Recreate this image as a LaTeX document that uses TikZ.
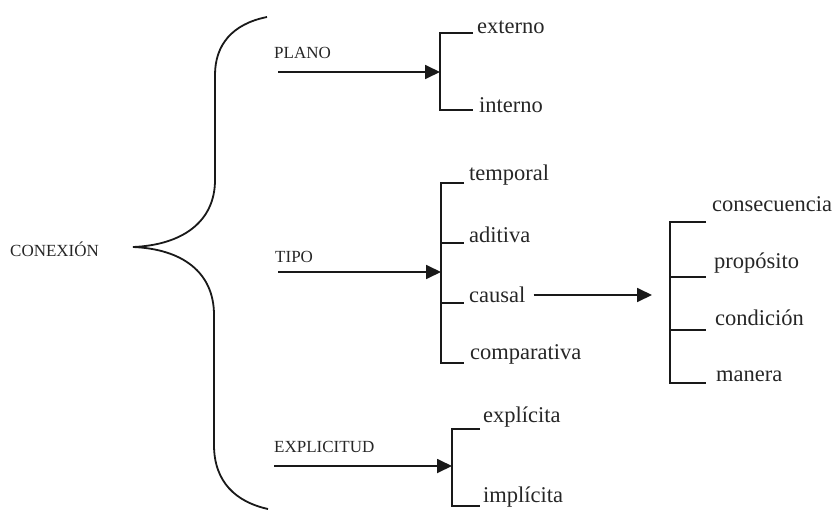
\documentclass[tikz,border=0pt]{standalone}
\usepackage{fontspec}
\setmainfont{Liberation Serif}
\usetikzlibrary{arrows.meta}
\begin{document}
\begin{tikzpicture}[x=1pt,y=-1pt,
  line/.style={line width=1.8pt,color=black!90},
  arr/.style={line, -{Triangle[length=15pt,width=14pt]}},
  upper/.style={font=\fontsize{17}{17}\selectfont, anchor=west, inner sep=0pt, text=black!85},
  lab/.style={font=\fontsize{22.5}{22.5}\selectfont, anchor=west, inner sep=0pt, text=black!85}]
\useasboundingbox (0,0) rectangle (837,511);
% brace
\draw[line] (267,17) .. controls (232,24) and (215,45) .. (215,75) -- (215,180)
  .. controls (215,222) and (182,245) .. (133,247)
  .. controls (182,249) and (214,272) .. (214,315) -- (214,445)
  .. controls (214,482) and (236,502) .. (268,509);
\node[upper] (con) at (10,249) {CONEXIÓN};
% PLANO
\node[upper] (plano) at (274,53) {PLANO};
\coordinate (p0) at (278,72);
\coordinate (pb) at (440,72);
\draw[line] (473,33) -- (440,33) -- (440,110) -- (473,110);
\draw[arr] (p0) -- (pb);
\node[lab] (ext) at (477,27) {externo};
\node[lab] (int) at (479,105) {interno};
% TIPO
\node[upper] (tipo) at (275,257) {TIPO};
\coordinate (t0) at (278,272);
\coordinate (tb) at (441,272);
\draw[line] (464,183) -- (441,183) -- (441,363) -- (464,363);
\draw[line] (441,243) -- (464,243);
\draw[line] (441,303) -- (464,303);
\draw[arr] (t0) -- (tb);
\node[lab] (temp) at (469,175) {temporal};
\node[lab] (adit) at (469,235) {aditiva};
\node[lab] (caus) at (469,295) {causal};
\node[lab] (comp) at (470,354) {comparativa};
% causal arrow
\coordinate (cb) at (652,295);
\draw[arr] ([xshift=8pt]caus.east) -- (cb);
% second bracket
\draw[line] (706,222) -- (670,222) -- (670,383) -- (706,383);
\draw[line] (670,277) -- (706,277);
\draw[line] (670,330) -- (706,330);
\node[lab] (cons) at (712,204) {consecuencia};
\node[lab] (prop) at (714,263) {propósito};
\node[lab] (cond) at (715,318) {condición};
\node[lab] (man) at (716,376) {manera};
% EXPLICITUD
\node[upper] (expl) at (274,447) {EXPLICITUD};
\coordinate (e0) at (274,466);
\coordinate (eb) at (452,466);
\draw[line] (480,429) -- (452,429) -- (452,506) -- (480,506);
\draw[arr] (e0) -- (eb);
\node[lab] (exp) at (483,417) {explícita};
\node[lab] (imp) at (483,497) {implícita};
\end{tikzpicture}
\end{document}
